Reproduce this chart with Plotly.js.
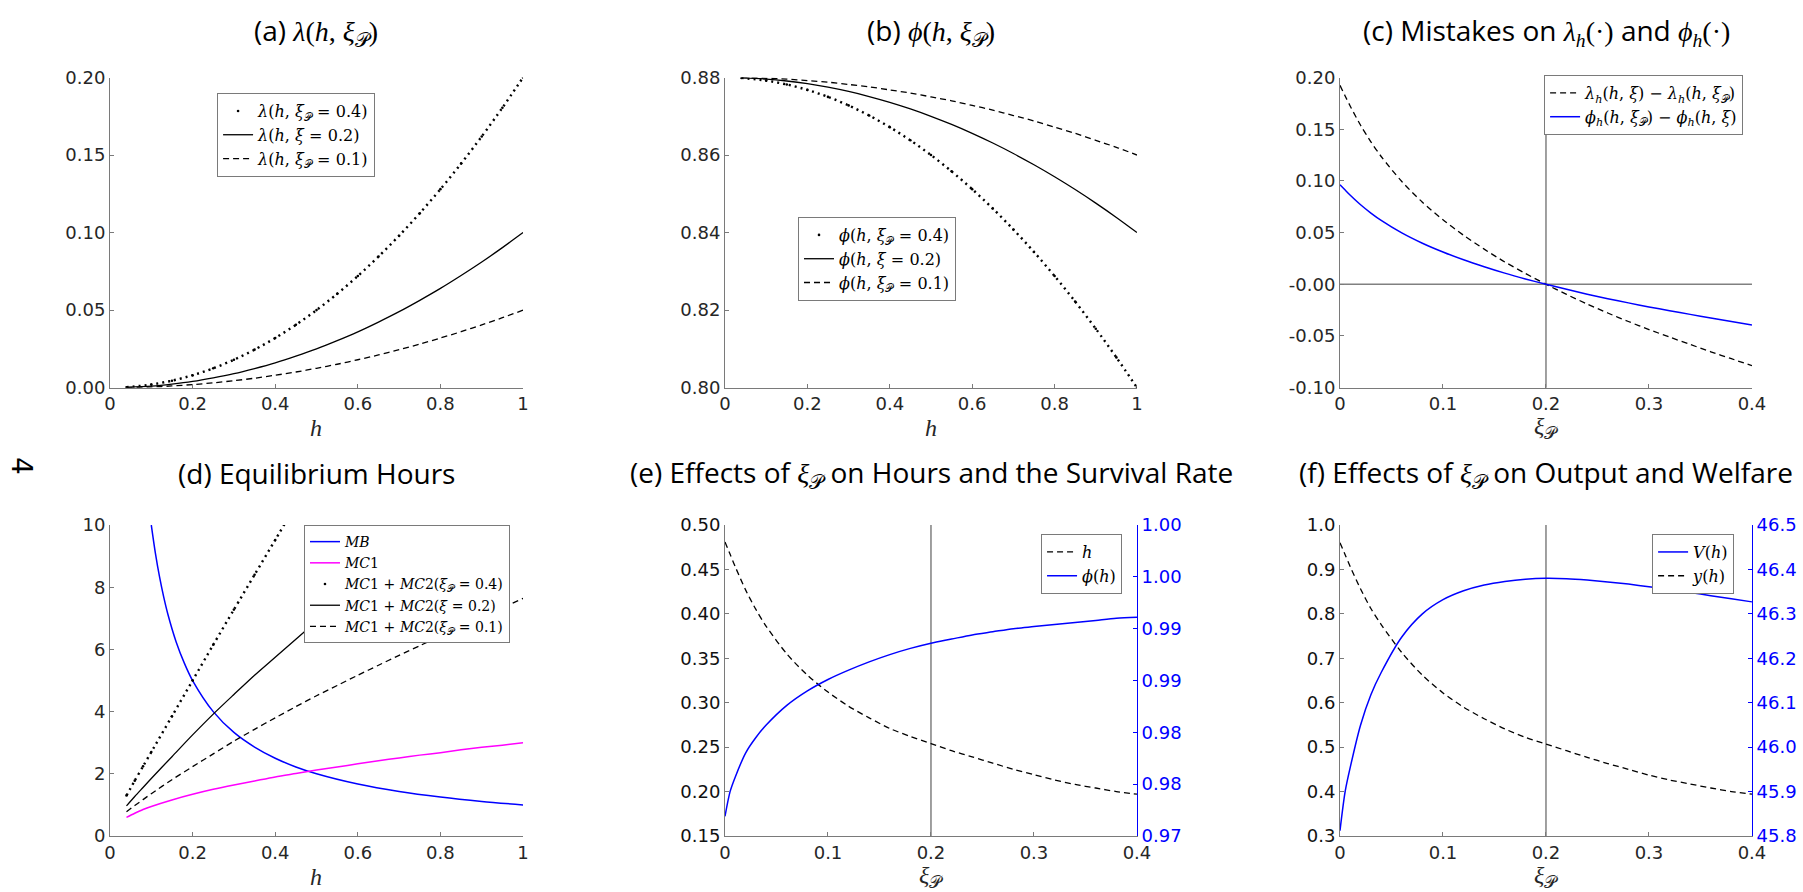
<!DOCTYPE html>
<html><head><meta charset="utf-8">
<script src="https://cdn.plot.ly/plotly-3.0.1.min.js"></script>
<style>html,body{margin:0;padding:0;background:#fff}#chart{width:1803px;height:892px}</style>
</head><body><div id="chart"></div>
<script>
// ---------------- data ----------------
// panels (a) and (b): grid of h
const hA = [0.04,0.10,0.15,0.20,0.25,0.30,0.35,0.40,0.45,0.50,0.55,0.60,0.65,0.70,0.75,0.80,0.85,0.90,0.95,1.00];
const lamXi04 = [0.0003,0.0020,0.0045,0.0080,0.0125,0.0180,0.0245,0.0320,0.0405,0.0500,0.0605,0.0720,0.0845,0.0980,0.1125,0.1280,0.1445,0.1620,0.1805,0.2000];
const lamXi02 = [0.0002,0.0010,0.0023,0.0040,0.0063,0.0090,0.0123,0.0160,0.0203,0.0250,0.0303,0.0360,0.0423,0.0490,0.0563,0.0640,0.0723,0.0810,0.0903,0.1000];
const lamXi01 = [0.0001,0.0005,0.0011,0.0020,0.0031,0.0045,0.0061,0.0080,0.0101,0.0125,0.0151,0.0180,0.0211,0.0245,0.0281,0.0320,0.0361,0.0405,0.0451,0.0500];
const phiXi04 = [0.8799,0.8792,0.8782,0.8768,0.8750,0.8728,0.8702,0.8672,0.8638,0.8600,0.8558,0.8512,0.8462,0.8408,0.8350,0.8288,0.8222,0.8152,0.8078,0.8000];
const phiXi02 = [0.8799,0.8796,0.8791,0.8784,0.8775,0.8764,0.8751,0.8736,0.8719,0.8700,0.8679,0.8656,0.8631,0.8604,0.8575,0.8544,0.8511,0.8476,0.8439,0.8400];
const phiXi01 = [0.8800,0.8798,0.8796,0.8792,0.8788,0.8782,0.8776,0.8768,0.8760,0.8750,0.8740,0.8728,0.8716,0.8702,0.8688,0.8672,0.8656,0.8638,0.8620,0.8600];

// panel (d): grid of h
const hD = [0.04,0.06,0.08,0.10,0.15,0.20,0.25,0.30,0.35,0.40,0.45,0.50,0.55,0.60,0.65,0.70,0.75,0.80,0.85,0.90,0.95,1.00];
const mc1 = [0.60,0.73,0.85,0.95,1.16,1.34,1.50,1.64,1.77,1.90,2.01,2.12,2.22,2.32,2.42,2.51,2.60,2.68,2.77,2.85,2.92,3.00];
const mcXi04 = [1.30,1.78,2.24,2.70,3.85,5.00,6.15,7.28,8.40,9.52,10.65,null,null,null,null,null,null,null,null,null,null,null];
const mcXi02 = [0.97,1.27,1.56,1.85,2.55,3.25,3.92,4.55,5.17,5.75,6.33,6.90,7.46,8.00,8.53,9.05,9.56,10.06,null,null,null,null];
const mcXi01 = [0.78,0.98,1.17,1.36,1.81,2.23,2.64,3.05,3.43,3.80,4.16,4.51,4.84,5.17,5.49,5.81,6.12,6.43,6.74,7.04,7.34,7.64];
const hMB = [0.10,0.11,0.12,0.13,0.14,0.16,0.18,0.20,0.25,0.30,0.35,0.40,0.45,0.50,0.60,0.70,0.80,0.90,1.00];
const mb  = [10.0,9.09,8.33,7.69,7.14,6.25,5.56,5.00,4.00,3.33,2.86,2.50,2.22,2.00,1.67,1.43,1.25,1.11,1.00];

// panels (c), (e), (f): grid of xi_P
const xiP = [0,0.005,0.01,0.02,0.03,0.04,0.06,0.08,0.10,0.12,0.14,0.16,0.18,0.20,0.22,0.24,0.26,0.28,0.30,0.32,0.34,0.36,0.38,0.40];
const dLamH = [0.1924,0.1822,0.1722,0.1538,0.1378,0.1236,0.0994,0.0794,0.0624,0.0474,0.0340,0.0216,0.0105,0.0000,-0.0098,-0.0191,-0.0278,-0.0360,-0.0438,-0.0511,-0.0582,-0.0653,-0.0720,-0.0788];
const dPhiH = [0.0962,0.0911,0.0861,0.0769,0.0689,0.0618,0.0497,0.0397,0.0312,0.0237,0.0170,0.0108,0.0052,0.0000,-0.0049,-0.0096,-0.0139,-0.0180,-0.0219,-0.0256,-0.0291,-0.0326,-0.0360,-0.0394];
const hEq   = [0.481,0.467,0.453,0.427,0.405,0.386,0.355,0.331,0.312,0.296,0.283,0.271,0.262,0.254,0.246,0.239,0.232,0.225,0.219,0.213,0.208,0.204,0.200,0.197];
const phiEq = [0.9719,0.9743,0.9757,0.9780,0.9795,0.9807,0.9826,0.9840,0.9851,0.9860,0.9868,0.9875,0.9881,0.9886,0.9890,0.9894,0.9897,0.9900,0.9902,0.9904,0.9906,0.9908,0.9910,0.9911];
const yOut  = [0.960,0.933,0.906,0.856,0.812,0.776,0.713,0.662,0.622,0.590,0.564,0.541,0.522,0.507,0.492,0.477,0.463,0.450,0.437,0.426,0.417,0.408,0.400,0.394];
const vWel  = [45.812,45.900,45.955,46.050,46.118,46.168,46.248,46.300,46.332,46.352,46.365,46.373,46.378,46.380,46.379,46.376,46.372,46.367,46.361,46.355,46.348,46.341,46.334,46.327];
const xiTrue = 0.2;
const zeroRef = 0;

// ticks
const hTicks = [0,0.2,0.4,0.6,0.8,1];
const hTickText = ['0','0.2','0.4','0.6','0.8','1'];
const xiTicks = [0,0.1,0.2,0.3,0.4];
const xiTickText = ['0','0.1','0.2','0.3','0.4'];
const aYTicks = [0,0.05,0.10,0.15,0.20];
const aYText = ['0.00','0.05','0.10','0.15','0.20'];
const bYTicks = [0.80,0.82,0.84,0.86,0.88];
const bYText = ['0.80','0.82','0.84','0.86','0.88'];
const cYTicks = [-0.10,-0.05,0,0.05,0.10,0.15,0.20];
const cYText = ['-0.10','-0.05','-0.00','0.05','0.10','0.15','0.20'];
const dYTicks = [0,2,4,6,8,10];
const dYText = ['0','2','4','6','8','10'];
const eYTicks = [0.15,0.20,0.25,0.30,0.35,0.40,0.45,0.50];
const eYText = ['0.15','0.20','0.25','0.30','0.35','0.40','0.45','0.50'];
const eY2Ticks = [0.970,0.975,0.980,0.985,0.990,0.995,1.000];
const eY2Text = ['0.97','0.98','0.98','0.99','0.99','1.00','1.00'];
const fYTicks = [0.3,0.4,0.5,0.6,0.7,0.8,0.9,1.0];
const fYText = ['0.3','0.4','0.5','0.6','0.7','0.8','0.9','1.0'];
const fY2Ticks = [45.8,45.9,46.0,46.1,46.2,46.3,46.4,46.5];
const fY2Text = ['45.8','45.9','46.0','46.1','46.2','46.3','46.4','46.5'];

// ---------------- styling ----------------
const BLACK = '#000000', BLUE = '#0000ff', MAG = '#ff00ff', AX = '#7a7a7a';
const DOT = '2px,4px', DASH = '6px,4px';
const M = s => '<span style="font-family:Liberation Serif">' + s + '</span>';
const XIP = '<i>ξ</i><sub>𝒫</sub>';
const EQ = '\u2004=\u2004';
const PL = '\u2004+\u2004';

function ln(x, y, xa, ya, color, width, dash, name, legend, show) {
  return {type:'scatter', mode:'lines', x:x, y:y, xaxis:xa, yaxis:ya,
    line:{color:color, width:width, dash:dash, shape:'spline', smoothing:0.8},
    name:name, legend:legend, showlegend:show, hoverinfo:'skip', connectgaps:false};
}
function dots(x, y, xa, ya, name, legend) {
  return {type:'scatter', mode:'markers', x:x, y:y, xaxis:xa, yaxis:ya,
    marker:{color:BLACK, size:2.6}, name:name, legend:legend, showlegend:true, hoverinfo:'skip', cliponaxis:true};
}

const traces = [
  // (a)
  dots(hA, lamXi04, 'x', 'y', '<i>λ</i>(<i>h</i>, ' + XIP + EQ + '0.4)', 'legend'),
  ln(hA, lamXi04, 'x', 'y', BLACK, 2.4, DOT, 'a1', 'legend', false),
  ln(hA, lamXi02, 'x', 'y', BLACK, 1.3, 'solid', '<i>λ</i>(<i>h</i>, <i>ξ</i>' + EQ + '0.2)', 'legend', true),
  ln(hA, lamXi01, 'x', 'y', BLACK, 1.3, DASH, '<i>λ</i>(<i>h</i>, ' + XIP + EQ + '0.1)', 'legend', true),
  // (b)
  dots(hA, phiXi04, 'x2', 'y2', '<i>ϕ</i>(<i>h</i>, ' + XIP + EQ + '0.4)', 'legend2'),
  ln(hA, phiXi04, 'x2', 'y2', BLACK, 2.4, DOT, 'b1', 'legend2', false),
  ln(hA, phiXi02, 'x2', 'y2', BLACK, 1.3, 'solid', '<i>ϕ</i>(<i>h</i>, <i>ξ</i>' + EQ + '0.2)', 'legend2', true),
  ln(hA, phiXi01, 'x2', 'y2', BLACK, 1.3, DASH, '<i>ϕ</i>(<i>h</i>, ' + XIP + EQ + '0.1)', 'legend2', true),
  // (c)
  ln(xiP, dLamH, 'x3', 'y3', BLACK, 1.3, DASH, '<i>λ<sub>h</sub></i>(<i>h</i>, <i>ξ</i>) − <i>λ<sub>h</sub></i>(<i>h</i>, ' + XIP + ')', 'legend3', true),
  ln(xiP, dPhiH, 'x3', 'y3', BLUE, 1.5, 'solid', '<i>ϕ<sub>h</sub></i>(<i>h</i>, ' + XIP + ') − <i>ϕ<sub>h</sub></i>(<i>h</i>, <i>ξ</i>)', 'legend3', true),
  // (d)
  ln(hMB, mb, 'x4', 'y4', BLUE, 1.5, 'solid', '<i>MB</i>', 'legend4', true),
  ln(hD, mc1, 'x4', 'y4', MAG, 1.5, 'solid', '<i>MC</i>1', 'legend4', true),
  dots(hD, mcXi04, 'x4', 'y4', '<i>MC</i>1' + PL + '<i>MC</i>2(' + XIP + EQ + '0.4)', 'legend4'),
  ln(hD, mcXi04, 'x4', 'y4', BLACK, 2.4, DOT, 'd1', 'legend4', false),
  ln(hD, mcXi02, 'x4', 'y4', BLACK, 1.3, 'solid', '<i>MC</i>1' + PL + '<i>MC</i>2(<i>ξ</i>' + EQ + '0.2)', 'legend4', true),
  ln(hD, mcXi01, 'x4', 'y4', BLACK, 1.3, DASH, '<i>MC</i>1' + PL + '<i>MC</i>2(' + XIP + EQ + '0.1)', 'legend4', true),
  // (e)
  ln(xiP, hEq, 'x5', 'y5', BLACK, 1.3, DASH, '<i>h</i>', 'legend5', true),
  ln(xiP, phiEq, 'x5', 'y7', BLUE, 1.5, 'solid', '<i>ϕ</i>(<i>h</i>)', 'legend5', true),
  // (f)
  ln(xiP, vWel, 'x6', 'y8', BLUE, 1.5, 'solid', '<i>V</i>(<i>h</i>)', 'legend6', true),
  ln(xiP, yOut, 'x6', 'y6', BLACK, 1.3, DASH, '<i>y</i>(<i>h</i>)', 'legend6', true)
];

const X_A = [0.0610, 0.2901], X_B = [0.4021, 0.6306], X_C = [0.7432, 0.9717];
const Y_T = [0.5654, 0.9131], Y_B = [0.0628, 0.4114];
const TICKFONT = {family:'DejaVu Sans', size:18, color:'#262626'};

function ax(o) {
  return Object.assign({showline:true, linecolor:AX, linewidth:1, ticks:'inside', ticklen:4, tickwidth:1,
    tickcolor:AX, showgrid:false, zeroline:false, tickfont:TICKFONT, fixedrange:true, tickmode:'array'}, o);
}
function rax(o) {
  return Object.assign({showline:true, linecolor:BLUE, linewidth:1, ticks:'inside', ticklen:4, tickwidth:1,
    tickcolor:BLUE, showgrid:false, zeroline:false, side:'right', fixedrange:true, tickmode:'array',
    tickfont:{family:'DejaVu Sans', size:18, color:BLUE}}, o);
}
function leg(x, y, size) {
  return {x:x, y:y, xref:'paper', yref:'paper', xanchor:'left', yanchor:'top', bgcolor:'#ffffff',
    bordercolor:AX, borderwidth:1, font:{family:'DejaVu Serif', size:size, color:'#000'}, tracegroupgap:0,
    itemwidth:30, traceorder:'normal'};
}
const TF = {family:'Open Sans', size:28, color:'#000'};
function title(x, y, text) { return {xref:'paper', yref:'paper', x:x, y:y, xanchor:'center', yanchor:'middle', showarrow:false, text:text, font:TF}; }
function xlab(x, y, text) { return {xref:'paper', yref:'paper', x:x, y:y, xanchor:'center', yanchor:'middle', showarrow:false, text:text, font:{family:'Liberation Serif', size:24, color:'#262626'}}; }

const layout = {
  width:1803, height:892, margin:{l:0, r:0, t:0, b:0},
  paper_bgcolor:'#ffffff', plot_bgcolor:'rgba(0,0,0,0)', showlegend:true,
  xaxis:  ax({domain:X_A, anchor:'y',  range:[0,1], tickvals:hTicks, ticktext:hTickText}),
  yaxis:  ax({domain:Y_T, anchor:'x',  range:[0,0.2], tickvals:aYTicks, ticktext:aYText}),
  xaxis2: ax({domain:X_B, anchor:'y2', range:[0,1], tickvals:hTicks, ticktext:hTickText}),
  yaxis2: ax({domain:Y_T, anchor:'x2', range:[0.8,0.88], tickvals:bYTicks, ticktext:bYText}),
  xaxis3: ax({domain:X_C, anchor:'y3', range:[0,0.4], tickvals:xiTicks, ticktext:xiTickText}),
  yaxis3: ax({domain:Y_T, anchor:'x3', range:[-0.1,0.2], tickvals:cYTicks, ticktext:cYText}),
  xaxis4: ax({domain:X_A, anchor:'y4', range:[0,1], tickvals:hTicks, ticktext:hTickText}),
  yaxis4: ax({domain:Y_B, anchor:'x4', range:[0,10], tickvals:dYTicks, ticktext:dYText}),
  xaxis5: ax({domain:X_B, anchor:'y5', range:[0,0.4], tickvals:xiTicks, ticktext:xiTickText}),
  yaxis5: ax({domain:Y_B, anchor:'x5', range:[0.15,0.5], tickvals:eYTicks, ticktext:eYText, tickfont:{family:'DejaVu Sans', size:18, color:'#111'}}),
  xaxis6: ax({domain:X_C, anchor:'y6', range:[0,0.4], tickvals:xiTicks, ticktext:xiTickText}),
  yaxis6: ax({domain:Y_B, anchor:'x6', range:[0.3,1.0], tickvals:fYTicks, ticktext:fYText, tickfont:{family:'DejaVu Sans', size:18, color:'#111'}}),
  yaxis7: rax({overlaying:'y5', anchor:'x5', range:[0.97,1.0], tickvals:eY2Ticks, ticktext:eY2Text}),
  yaxis8: rax({overlaying:'y6', anchor:'x6', range:[45.8,46.5], tickvals:fY2Ticks, ticktext:fY2Text}),
  legend:  leg(0.1204, 0.8957, 16),
  legend2: leg(0.4426, 0.7567, 16),
  legend3: leg(0.8564, 0.9159, 16),
  legend4: leg(0.1686, 0.4114, 14),
  legend5: leg(0.5774, 0.4013, 16),
  legend6: leg(0.9163, 0.4013, 16),
  shapes: [
    {type:'line', layer:'below', xref:'x3', yref:'y3 domain', x0:xiTrue, x1:xiTrue, y0:0, y1:1, line:{color:'#808080', width:1.5}},
    {type:'line', layer:'below', xref:'x3 domain', yref:'y3', x0:0, x1:1, y0:zeroRef, y1:zeroRef, line:{color:'#808080', width:1.5}},
    {type:'line', layer:'below', xref:'x5', yref:'y5 domain', x0:xiTrue, x1:xiTrue, y0:0, y1:1, line:{color:'#808080', width:1.5}},
    {type:'line', layer:'below', xref:'x6', yref:'y6 domain', x0:xiTrue, x1:xiTrue, y0:0, y1:1, line:{color:'#808080', width:1.5}}
  ],
  annotations: [
    title(0.1755, 0.9652, '(a) ' + M('<i>λ</i>(<i>h</i>, ' + XIP + ')')),
    title(0.5164, 0.9652, '(b) ' + M('<i>ϕ</i>(<i>h</i>, ' + XIP + ')')),
    title(0.8575, 0.9652, '(c) Mistakes on ' + M('<i>λ<sub>h</sub></i>(·)') + ' and ' + M('<i>ϕ<sub>h</sub></i>(·)')),
    title(0.1755, 0.4697, '(d) Equilibrium Hours'),
    title(0.5164, 0.4697, '(e) Effects of ' + M(XIP) + ' on Hours and the Survival Rate'),
    title(0.8575, 0.4697, '(f) Effects of ' + M(XIP) + ' on Output and Welfare'),
    xlab(0.1755, 0.5202, '<i>h</i>'),
    xlab(0.5164, 0.5202, '<i>h</i>'),
    xlab(0.8575, 0.5202, XIP),
    xlab(0.1755, 0.0168, '<i>h</i>'),
    xlab(0.5164, 0.0168, XIP),
    xlab(0.8575, 0.0168, XIP),
    {xref:'paper', yref:'paper', x:0.0116, y:0.4776, xanchor:'center', yanchor:'middle', showarrow:false, text:'4', textangle:90, font:{family:'DejaVu Sans', size:28, color:'#000'}}
  ]
};

Plotly.newPlot('chart', traces, layout, {displayModeBar:false, staticPlot:true});
</script>
</body></html>
